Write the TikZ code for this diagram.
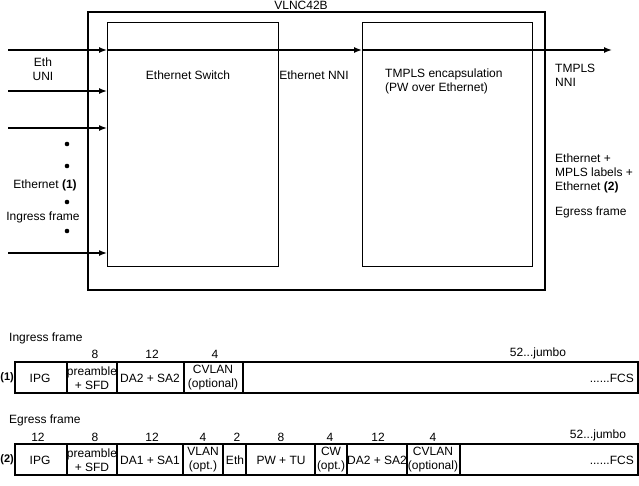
\documentclass[tikz,border=0pt]{standalone}
\usepackage{fontspec}
\setmainfont{Liberation Sans}
\begin{document}
\begin{tikzpicture}[x=1pt,y=-1pt,font=\fontsize{12}{14}\selectfont,
  box/.style={draw,line width=1.4pt},
  arr/.style={line width=1.4pt,-{Latex[length=8pt,width=6pt]}},
  txt/.style={inner sep=0pt,align=center},
  ltxt/.style={inner sep=0pt,align=left,anchor=west},
  fld/.style={line width=1.4pt}]
\useasboundingbox (0,0) rectangle (639,485);
\usetikzlibrary{arrows.meta}
\draw[box,line width=1.6pt] (88,12) rectangle (545,290);
\node[txt] (title) at (301,5) {VLNC42B};
\node[draw,line width=1.2pt,minimum width=171pt,minimum height=244pt,anchor=north west,inner sep=0pt] (sw) at (107,22) {};
\node[draw,line width=1.2pt,minimum width=170pt,minimum height=244pt,anchor=north west,inner sep=0pt] (tm) at (362,22) {};
\coordinate (i0) at (8,50);
\coordinate (i1) at (8,91);
\coordinate (i2) at (8,128);
\coordinate (i3) at (8,253);
\coordinate (out) at (612,50);
\draw[arr] (i0) -- (i0 -| sw.west);
\draw[arr] (i0 -| sw.west) -- (i0 -| tm.west);
\draw[arr] (i0 -| tm.west) -- (out);
\draw[arr] (i1) -- (i1 -| sw.west);
\draw[arr] (i2) -- (i2 -| sw.west);
\draw[arr] (i3) -- (i3 -| sw.west);
\node[txt] (eth) at (43,69) {Eth\\UNI};
\node[txt] (e1) at (45,185) {Ethernet \textbf{(1)}};
\node[txt] (ig) at (43,217) {Ingress frame};
\foreach \y in {144,166,202,231} \fill (67,\y) circle (2.3pt);
\node[txt] (swl) at (188,75) {Ethernet Switch};
\node[txt] (nni) at (314,75) {Ethernet NNI};
\node[ltxt,anchor=north west] (tml) at (385,69) {TMPLS encapsulation\\(PW over Ethernet)};
\node[ltxt,anchor=north west] (tnni) at (555,64) {TMPLS\\NNI};
\node[ltxt,anchor=north west] (e2) at (555,154) {Ethernet +\\MPLS labels +\\Ethernet \textbf{(2)}};
\node[ltxt] (eg) at (555,212) {Egress frame};
% Frame 1
\node[ltxt] (if) at (9,338) {Ingress frame};
\draw[fld] (15,362) rectangle (638,393);
\foreach \x in {67,117,184,243} \draw[fld] (\x,362) -- (\x,393);
\node[txt,anchor=east,font=\fontsize{11}{13}\selectfont] (l1) at (14,378) {\textbf{(1)}};
\node[txt] (f1a) at (40,378) {IPG};
\node[txt] (f1b) at (92,378) {preamble\\+ SFD};
\node[txt] (f1c) at (150,378) {DA2 + SA2};
\node[txt] (f1d) at (213,378) {CVLAN\\(optional)};
\node[txt,anchor=east] (f1e) at (634,378) {......FCS};
\node[txt] (n1a) at (95,354) {8};
\node[txt] (n1b) at (152,354) {12};
\node[txt] (n1c) at (215,354) {4};
\node[txt] (n1d) at (538,353) {52...jumbo};
% Frame 2
\node[ltxt] (ef) at (9,420) {Egress frame};
\draw[fld] (15,444) rectangle (638,475);
\foreach \x in {67,117,183,223,246,315,347,407,460} \draw[fld] (\x,444) -- (\x,475);
\node[txt,anchor=east,font=\fontsize{11}{13}\selectfont] (l2) at (14,460) {\textbf{(2)}};
\node[txt] (f2a) at (40,460) {IPG};
\node[txt] (f2b) at (92,460) {preamble\\+ SFD};
\node[txt] (f2c) at (150,460) {DA1 + SA1};
\node[txt] (f2d) at (203,460) {VLAN\\(opt.)};
\node[txt] (f2e) at (235,460) {Eth};
\node[txt] (f2f) at (281,460) {PW + TU};
\node[txt] (f2g) at (331,460) {CW\\(opt.)};
\node[txt] (f2h) at (377,460) {DA2 + SA2};
\node[txt] (f2i) at (433,460) {CVLAN\\(optional)};
\node[txt,anchor=east] (f2j) at (634,460) {......FCS};
\foreach \x/\t/\n in {38/12/a,95/8/b,152/12/c,203/4/d,237/2/e,281/8/f,330/4/g,378/12/h,433/4/i} \node[txt] (n2\n) at (\x,437) {\t};
\node[txt] (n2j) at (598,435) {52...jumbo};
\end{tikzpicture}
\end{document}
